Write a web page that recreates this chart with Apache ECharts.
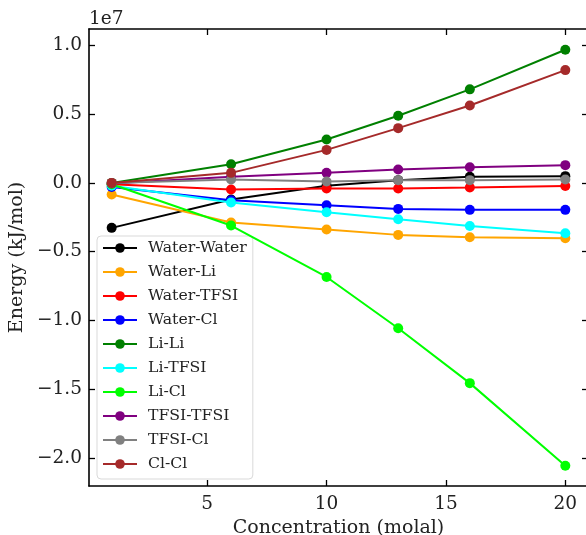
<!DOCTYPE html>
<html><head><meta charset="utf-8">
<script src="https://cdn.jsdelivr.net/npm/echarts@6/dist/echarts.min.js"></script>
<style>html,body{margin:0;padding:0;background:#fff}#c{width:586px;height:535px}</style>
</head><body><div id="c"></div>
<script>
const concentration = [1, 6, 10, 13, 16, 20];
const waterWater = [-3.27e6, -1.21e6, -0.20e6, 0.20e6, 0.44e6, 0.49e6];
const waterLi = [-0.85e6, -2.88e6, -3.39e6, -3.78e6, -3.95e6, -4.02e6];
const waterTFSI = [-0.10e6, -0.48e6, -0.41e6, -0.41e6, -0.34e6, -0.22e6];
const waterCl = [-0.30e6, -1.26e6, -1.62e6, -1.89e6, -1.96e6, -1.96e6];
const liLi = [0.0e6, 1.36e6, 3.16e6, 4.88e6, 6.80e6, 9.68e6];
const liTFSI = [-0.20e6, -1.43e6, -2.13e6, -2.64e6, -3.13e6, -3.66e6];
const liCl = [-0.10e6, -3.10e6, -6.84e6, -10.57e6, -14.56e6, -20.57e6];
const tfsiTfsi = [-0.05e6, 0.45e6, 0.73e6, 0.97e6, 1.14e6, 1.29e6];
const tfsiCl = [0.0e6, 0.25e6, 0.10e6, 0.20e6, 0.20e6, 0.25e6];
const clCl = [0.0e6, 0.73e6, 2.40e6, 3.98e6, 5.63e6, 8.20e6];
const seriesNames = ['Water-Water','Water-Li','Water-TFSI','Water-Cl','Li-Li','Li-TFSI','Li-Cl','TFSI-TFSI','TFSI-Cl','Cl-Cl'];
const seriesValues = [waterWater, waterLi, waterTFSI, waterCl, liLi, liTFSI, liCl, tfsiTfsi, tfsiCl, clCl];
const seriesColors = ['#000000','#ffa500','#ff0000','#0000ff','#008000','#00ffff','#00ff00','#800080','#808080','#a52a2a'];
const xTicks = [5, 10, 15, 20];
const yTicks = [-2.0e7, -1.5e7, -1.0e7, -0.5e7, 0, 0.5e7, 1.0e7];

const FONT = 'DejaVu Serif';
const FS = 18.5, FN = 19, FL = 15.7;
const xMin = 0.05, xMax = 20.95, yMin = -2.204e7, yMax = 1.119e7;
const tickStyle = {show: true, inside: true, length: 6, lineStyle: {color: '#000', width: 1.3}};
const lineStyle = {show: true, onZero: false, lineStyle: {color: '#000', width: 1.6}};

const chart = echarts.init(document.getElementById('c'), null, {renderer: 'canvas'});
chart.setOption({
  animation: false,
  backgroundColor: '#fff',
  grid: {left: 89, top: 29, width: 499, height: 457, containLabel: false, outerBoundsMode: 'none'},
  graphic: [{type: 'text', left: 89, top: 10, style: {text: '1e7', font: FS + 'px "' + FONT + '"', fill: '#222'}}],
  xAxis: [{
    type: 'value', min: xMin, max: xMax, position: 'bottom',
    axisLine: lineStyle, splitLine: {show: false},
    axisTick: Object.assign({customValues: xTicks}, tickStyle),
    axisLabel: {customValues: xTicks, margin: 9, color: '#222', fontFamily: FONT, fontSize: FS},
    name: 'Concentration (molal)', nameLocation: 'middle', nameGap: 29,
    nameTextStyle: {color: '#222', fontFamily: FONT, fontSize: FN}
  }, {
    type: 'value', min: xMin, max: xMax, position: 'top',
    axisLine: lineStyle, splitLine: {show: false},
    axisTick: Object.assign({customValues: xTicks}, tickStyle),
    axisLabel: {show: false}
  }],
  yAxis: [{
    type: 'value', min: yMin, max: yMax, position: 'left',
    axisLine: lineStyle, splitLine: {show: false},
    axisTick: Object.assign({customValues: yTicks}, tickStyle),
    axisLabel: {customValues: yTicks, margin: 7, color: '#222', fontFamily: FONT, fontSize: FS,
      formatter: v => (v / 1e7).toFixed(1).replace('-', '\u2212')},
    name: 'Energy (kJ/mol)', nameLocation: 'middle', nameGap: 55, nameRotate: 90,
    nameTextStyle: {color: '#222', fontFamily: FONT, fontSize: FN}
  }, {
    type: 'value', min: yMin, max: yMax, position: 'right',
    axisLine: lineStyle, splitLine: {show: false},
    axisTick: Object.assign({customValues: yTicks}, tickStyle),
    axisLabel: {show: false}
  }],
  legend: {
    orient: 'vertical', left: 97, top: 236,
    data: seriesNames,
    itemWidth: 34, itemHeight: 12, itemGap: 8.0,
    padding: [4, 6, 7, 5],
    backgroundColor: 'rgba(255,255,255,0.85)', borderColor: '#d9d9d9', borderWidth: 1, borderRadius: 4,
    textStyle: {color: '#222', fontFamily: FONT, fontSize: FL, lineHeight: 16, padding: [0, 0, 0, 6]}
  },
  series: seriesNames.map((n, i) => ({
    name: n, type: 'line', xAxisIndex: 0, yAxisIndex: 0,
    data: concentration.map((x, j) => [x, seriesValues[i][j]]),
    symbol: 'circle', symbolSize: 10, showSymbol: true,
    lineStyle: {color: seriesColors[i], width: 2},
    itemStyle: {color: seriesColors[i]},
    z: 2 + i
  }))
});
</script></body></html>
